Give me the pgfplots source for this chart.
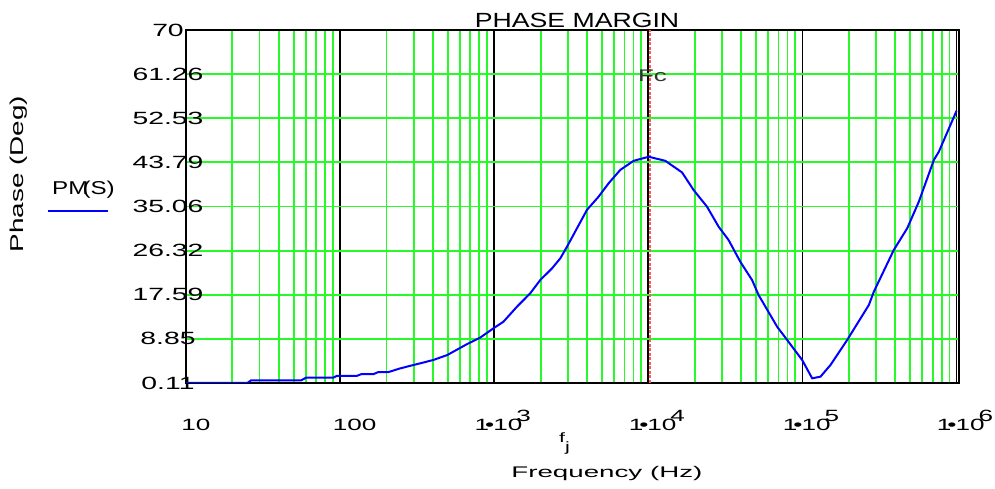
\documentclass[border=0pt]{standalone}
\usepackage{fontspec}
\setmainfont{Liberation Sans}
\newfontfamily\fTick[FakeStretch=1.6]{Liberation Sans}
\newfontfamily\fTitle[FakeStretch=1.3]{Liberation Sans}
\newfontfamily\fYlab[FakeStretch=1.5]{Liberation Sans}
\newfontfamily\fXlab[FakeStretch=1.8]{Liberation Sans}
\newfontfamily\fLeg[FakeStretch=1.3]{Liberation Sans}
\newfontfamily\fFc[FakeStretch=1.55]{Liberation Sans}
\usepackage{pgfplots}
\pgfplotsset{compat=1.18}
\definecolor{gridgreen}{RGB}{40,250,40}
\definecolor{fcred}{RGB}{255,90,90}
\definecolor{curveblue}{RGB}{0,0,255}
\definecolor{fcgray}{RGB}{50,50,50}
\newcommand\xl[1]{1\kern-4bp\textbullet\kern-1bp 10\kern-6bp\raisebox{8.5bp}{#1}}

\pgfplotstableread{
f v
10 0.11
25 0.11
26.5 0.65
56 0.65
60 1.15
90 1.15
95 1.5
128 1.5
137 1.85
164 1.85
176 2.25
205 2.25
245 3.0
402 4.66
496 5.65
668 7.83
811 9.1
989 10.94
1148 12.25
1403 15.2
1713 17.87
1990 20.5
2371 22.8
2685 24.8
2967 27.1
3445 30.75
4000 34.4
4756 37.0
5524 39.65
6577 42.3
8030 44.1
10050 44.9
12890 44.1
16550 41.8
19690 38.3
24050 35.0
28580 31.06
33200 28.4
39550 24.1
47100 20.5
52000 17.5
68500 11.26
79600 8.62
99600 4.66
115600 1.04
130900 1.36
152000 3.67
195000 8.62
269700 15.55
290600 18.19
391600 26.45
478600 30.75
569000 36.0
712600 44.27
767600 45.9
1000000 54.0
}\pmdata

\begin{document}
\begin{tikzpicture}
\begin{axis}[
  scale only axis, width=773.3bp, height=353bp,
  xmode=log, log basis x=10,
  xmin=10, xmax=1042000, ymin=0.11, ymax=70,
  xtick={10,100,1000,10000,100000,1000000},
  xticklabels={\hspace*{3bp}10,\hspace*{12bp}100,\xl{3},\xl{4},\xl{5},\xl{6}},
  minor xtick={20,30,40,50,60,70,80,90,200,300,400,500,600,700,800,900,2000,3000,4000,5000,6000,7000,8000,9000,20000,30000,40000,50000,60000,70000,80000,90000,200000,300000,400000,500000,600000,700000,800000,900000},
  ytick={0.11,8.85,17.59,26.32,35.06,43.79,52.53,61.26,70},
  yticklabels={0.11,8.85,17.59,26.32,35.06,43.79,52.53,61.26,70},
  major tick length=0pt, minor tick length=0pt,
  xmajorgrids=true, xminorgrids=true, ymajorgrids=true,
  major x grid style={black, line width=1.8bp},
  minor x grid style={gridgreen, line width=1.8bp},
  major y grid style={gridgreen, line width=1.8bp},
  axis line style={black, line width=1.8bp},
  xticklabel style={font=\fTick\fontsize{16.3bp}{18bp}\selectfont, anchor=base, yshift=-47bp, xshift=8.5bp},
  yticklabel style={font=\fTick\fontsize{17.7bp}{19bp}\selectfont, anchor=center, xshift=-18bp},
]
\addplot[fcred, dash pattern=on 3bp off 1.5bp, line width=1.4bp] coordinates {(10250,0.11) (10250,70)};
\addplot[curveblue, line width=2bp] table[x=f, y=v] {\pmdata};
\coordinate (O) at (rel axis cs:0,0);
\end{axis}
\node[anchor=base, font=\fTitle\fontsize{20.5bp}{22bp}\selectfont, inner sep=0pt] at ([xshift=391bp, yshift=355.7bp]O) {PHASE MARGIN};
\node[rotate=90, anchor=base, font=\fYlab\fontsize{18.6bp}{20bp}\selectfont, inner sep=0pt] at ([xshift=-162.7bp, yshift=209bp]O) {Phase (Deg)};
\node[anchor=base, font=\fLeg\fontsize{18.6bp}{20bp}\selectfont, inner sep=0pt] at ([xshift=-102.5bp, yshift=188bp]O) {PM\kern-6bp(S)};
\draw[curveblue, line width=2bp] ([xshift=-138.3bp, yshift=172.3bp]O) -- ([xshift=-78bp, yshift=172.3bp]O);
\node[anchor=base, text=fcgray, font=\fFc\fontsize{16.8bp}{18bp}\selectfont, inner sep=0pt] at ([xshift=466.5bp, yshift=301bp]O) {Fc};
\node[anchor=base west, font=\fTick\fontsize{13.5bp}{15bp}\selectfont, inner sep=0pt] at ([xshift=373bp, yshift=-59bp]O) {f\raisebox{-9.4bp}{j}};
\node[anchor=base, font=\fXlab\fontsize{15.4bp}{17bp}\selectfont, inner sep=0pt] at ([xshift=420.9bp, yshift=-94.7bp]O) {Frequency (Hz)};
\pgfresetboundingbox
\path ([xshift=-186bp, yshift=-106bp]O) rectangle ([xshift=809bp, yshift=383bp]O);
\end{tikzpicture}
\end{document}
